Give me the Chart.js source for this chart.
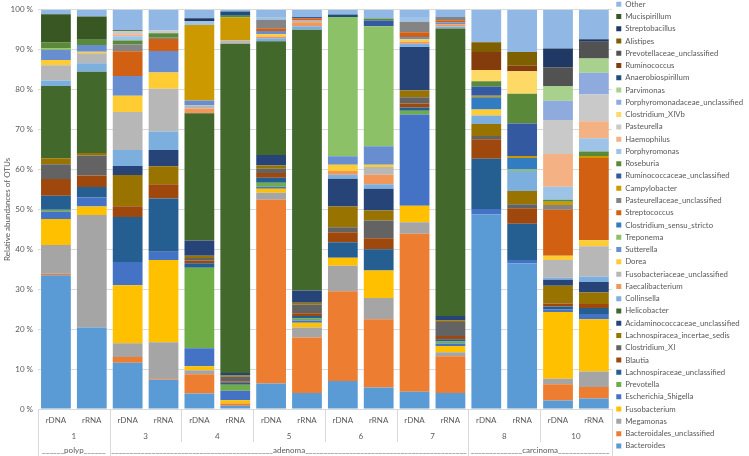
<!DOCTYPE html>
<html>
<head>
<meta charset="utf-8">
<script src="https://cdn.jsdelivr.net/npm/chart.js@4.4.1/dist/chart.umd.min.js"></script>
<style>
  html, body { margin: 0; padding: 0; background: #fff; }
  #wrap { width: 749px; height: 456px; }
</style>
</head>
<body>
<div id="wrap"><canvas id="otuChart"></canvas></div>
<script>
// bars: one rDNA and one rRNA sample per patient
const bars = ['rDNA', 'rRNA', 'rDNA', 'rRNA', 'rDNA', 'rRNA', 'rDNA', 'rRNA',
              'rDNA', 'rRNA', 'rDNA', 'rRNA', 'rDNA', 'rRNA', 'rDNA', 'rRNA'];
const patients = ['1', '3', '4', '5', '6', '7', '8', '10'];
const stages = ['polyp', 'adenoma', 'adenoma', 'adenoma', 'adenoma', 'adenoma', 'carcinoma', 'carcinoma'];

// relative abundance (%) per taxon, one value per bar
const Bacteroides = [33.5, 20.4, 11.6, 7.4, 3.9, 0.8, 6.4, 4.0, 7.0, 5.4, 4.3, 4.0, 48.8, 36.5, 2.1, 2.6];
const Bacteroidales_unclassified = [0.4, 0, 1.4, 0.3, 4.8, 0.6, 46.0, 13.9, 22.5, 17.1, 39.6, 9.2, 0, 0, 4.1, 2.9];
const Megamonas = [7.2, 28.2, 3.5, 9.0, 1.0, 0, 1.8, 2.5, 6.4, 5.3, 2.9, 1.0, 0, 0, 1.4, 3.9];
const Fusobacterium = [6.5, 2.1, 14.5, 20.6, 1.0, 0.8, 1.0, 1.2, 2.0, 6.9, 4.1, 1.6, 0, 0, 16.7, 13.1];
const Escherichia_Shigella = [1.9, 2.3, 5.8, 2.1, 4.5, 2.4, 0.5, 0.6, 0, 0, 22.9, 0.6, 1.3, 0.8, 0.6, 1.3];
const Prevotella = [0.4, 0, 0, 0, 20.2, 1.5, 1.0, 0.5, 0, 0, 0.9, 0.5, 0, 0, 0, 0];
const Lachnospiraceae_unclassified = [3.5, 2.6, 11.3, 13.3, 1.1, 0.5, 1.2, 0.6, 3.9, 5.3, 0.8, 0.6, 12.6, 9.1, 0.8, 1.5];
const Blautia = [4.2, 2.9, 2.7, 3.6, 0.7, 0.3, 1.2, 0.7, 2.5, 2.8, 1.0, 0.8, 4.9, 3.9, 0.7, 1.0];
const Clostridium_XI = [3.7, 5.0, 0, 0, 0.6, 1.2, 1.1, 2.1, 1.2, 4.4, 1.6, 3.5, 0.8, 1.0, 0, 0];
const Lachnospiracea_incertae_sedis = [1.5, 0.6, 7.8, 4.5, 0.6, 0.3, 0.8, 0.5, 5.2, 2.5, 1.7, 0.4, 3.0, 3.3, 4.5, 2.9];
const Acidaminococcaceae_unclassified = [0, 0, 2.3, 4.1, 3.8, 0.6, 2.6, 3.1, 7.0, 5.5, 10.9, 1.1, 0, 0, 1.5, 2.6];
const Helicobacter = [18.1, 20.4, 0, 0, 31.9, 82.5, 28.5, 65.3, 0, 0, 0, 72.0, 0, 0, 0, 0];
const Collinsella = [1.4, 2.1, 4.0, 4.6, 0, 0, 0.8, 0.9, 1.0, 1.1, 0.8, 0.5, 2.1, 5.0, 0.5, 1.4];
const Faecalibacterium = [0, 0, 0, 0, 1.2, 0, 0.4, 1.0, 0.9, 2.4, 0.5, 0.6, 0, 0, 0, 0];
const Fusobacteriaceae_unclassified = [3.8, 2.5, 9.5, 10.7, 0.8, 0.8, 0, 0.4, 0, 1.9, 0, 0, 0, 0, 4.4, 7.6];
const Dorea = [1.3, 0.4, 4.1, 4.1, 0, 0, 0.6, 0, 1.6, 0.6, 0.6, 0, 1.5, 0, 1.1, 1.5];
const Sutterella = [2.5, 1.7, 4.9, 5.4, 1.2, 0, 0.8, 0, 2.1, 4.6, 0.6, 0.4, 0, 0, 0, 0];
const Treponema = [0.4, 0, 0, 0, 0, 0, 0, 0, 34.9, 30.1, 0, 0, 0, 0.4, 0, 0];
const Clostridium_sensu_stricto = [0, 0, 0, 0, 0, 0, 0, 0, 0, 0, 0, 0, 3.1, 2.9, 0, 0];
const Streptococcus = [0, 0, 6.2, 3.0, 0, 0, 0.7, 0.6, 0, 0, 1.2, 0.6, 0, 0, 11.5, 20.6];
const Pasteurellaceae_unclassified = [0, 0, 1.7, 0.3, 0, 0, 2.1, 0, 0, 0, 2.6, 0.8, 0, 0, 1.2, 0];
const Campylobacter = [0, 0, 0, 0, 18.9, 5.8, 0, 0, 0, 0, 0, 0, 0.4, 0.5, 0.8, 0.5];
const Ruminococcaceae_unclassified = [0, 0, 0, 0, 0, 0, 0, 0.3, 0, 1.4, 0, 0, 2.3, 8.1, 0, 0];
const Roseburia = [1.6, 1.3, 1.0, 1.1, 0, 0.4, 0, 0, 0, 0.5, 0, 0, 1.3, 7.5, 0.5, 1.1];
const Porphyromonas = [0, 0, 1.1, 0, 1.0, 0, 0.5, 0, 0, 0, 1.2, 0, 0, 0, 3.3, 3.3];
const Haemophilus = [0, 0, 0.5, 0, 0, 0, 0, 0, 0, 0, 0, 0, 0, 0, 8.2, 4.3];
const Pasteurella = [0, 0, 0.7, 0.7, 0, 0, 0, 0, 0, 0, 0, 0, 0, 0, 8.5, 6.7];
const Clostridium_XIVb = [0, 0, 0, 0, 0, 0, 0, 0, 0, 0, 0, 0, 2.8, 5.6, 0, 0];
const Porphyromonadaceae_unclassified = [0, 0, 0, 0, 0, 0, 0, 0, 0, 0, 0, 0, 0, 0, 4.8, 5.4];
const Parvimonas = [0, 0, 0, 0, 0, 0, 0, 0, 0, 0, 0, 0, 0, 0, 3.7, 3.6];
const Anaerobiospirillum = [0, 0, 0, 0, 0, 1.1, 0, 0, 0.6, 0, 0, 0, 0, 0, 0, 0];
const Ruminococcus = [0, 0, 0, 0, 0, 0, 0, 0, 0, 0, 0, 0, 4.5, 1.4, 0, 0];
const Prevotellaceae_unclassified = [0, 0, 0, 0, 0, 0, 0, 0, 0, 0, 0, 0, 0, 0, 4.7, 4.2];
const Alistipes = [0, 0, 0, 0, 0, 0, 0, 0, 0, 0, 0, 0, 2.5, 3.4, 0, 0];
const Streptobacillus = [0, 0, 0, 0, 0.7, 0, 0, 0, 0, 0, 0, 0, 0, 0, 4.7, 0.6];
const Mucispirillum = [7.0, 5.8, 0.3, 0, 0, 0, 0, 0, 0, 0, 0, 0, 0, 0, 0, 0];
const Other = [1.1, 1.7, 5.1, 5.2, 2.1, 0.4, 2.0, 1.8, 1.2, 2.2, 1.8, 1.8, 8.1, 10.6, 9.7, 7.4];

// stacking order, bottom to top
const seriesNames = ['Bacteroides', 'Bacteroidales_unclassified', 'Megamonas', 'Fusobacterium',
  'Escherichia_Shigella', 'Prevotella', 'Lachnospiraceae_unclassified', 'Blautia', 'Clostridium_XI',
  'Lachnospiracea_incertae_sedis', 'Acidaminococcaceae_unclassified', 'Helicobacter', 'Collinsella',
  'Faecalibacterium', 'Fusobacteriaceae_unclassified', 'Dorea', 'Sutterella', 'Treponema',
  'Clostridium_sensu_stricto', 'Streptococcus', 'Pasteurellaceae_unclassified', 'Campylobacter',
  'Ruminococcaceae_unclassified', 'Roseburia', 'Porphyromonas', 'Haemophilus', 'Pasteurella',
  'Clostridium_XIVb', 'Porphyromonadaceae_unclassified', 'Parvimonas', 'Anaerobiospirillum',
  'Ruminococcus', 'Prevotellaceae_unclassified', 'Alistipes', 'Streptobacillus', 'Mucispirillum', 'Other'];
const seriesValues = [Bacteroides, Bacteroidales_unclassified, Megamonas, Fusobacterium,
  Escherichia_Shigella, Prevotella, Lachnospiraceae_unclassified, Blautia, Clostridium_XI,
  Lachnospiracea_incertae_sedis, Acidaminococcaceae_unclassified, Helicobacter, Collinsella,
  Faecalibacterium, Fusobacteriaceae_unclassified, Dorea, Sutterella, Treponema,
  Clostridium_sensu_stricto, Streptococcus, Pasteurellaceae_unclassified, Campylobacter,
  Ruminococcaceae_unclassified, Roseburia, Porphyromonas, Haemophilus, Pasteurella,
  Clostridium_XIVb, Porphyromonadaceae_unclassified, Parvimonas, Anaerobiospirillum,
  Ruminococcus, Prevotellaceae_unclassified, Alistipes, Streptobacillus, Mucispirillum, Other];

const palette = ['#5B9BD5', '#ED7D31', '#A5A5A5', '#FFC000', '#4472C4', '#70AD47',
  '#255E91', '#9E480E', '#636363', '#997300', '#264478', '#43682B',
  '#7CAFDD', '#F1975A', '#B7B7B7', '#FFCD33', '#698ED0', '#8CC168',
  '#327DC2', '#D26012', '#848484', '#CC9A00', '#335AA1', '#5A8A39',
  '#9DC3E6', '#F4B183', '#C9C9C9', '#FFD966', '#8FAADC', '#A9D18E',
  '#1F4E79', '#843C0C', '#525252', '#7F6000', '#203864', '#385723', '#91B8E4'];

const textColor = '#595959';
const lineColor = '#d9d9d9';
Chart.defaults.font.family = 'Lato, Calibri, "Open Sans", sans-serif';
Chart.defaults.color = textColor;

// patient numbers, stage labels and separators under the x axis
const groupAxis = {
  id: 'groupAxis',
  afterDraw(chart) {
    const { ctx, chartArea } = chart;
    const x = chart.scales.x;
    const step = x.getPixelForValue(1) - x.getPixelForValue(0);
    const base = chartArea.bottom;
    const bottom = chart.height;
    const edges = [];
    ctx.save();
    ctx.fillStyle = textColor;
    ctx.strokeStyle = lineColor;
    ctx.lineWidth = 1;
    ctx.font = '8px Lato, Calibri, sans-serif';
    ctx.textAlign = 'center';
    ctx.textBaseline = 'middle';
    patients.forEach((p, i) => {
      const l = x.getPixelForValue(2 * i) - step / 2;
      const r = x.getPixelForValue(2 * i + 1) + step / 2;
      edges.push([l, r]);
      ctx.fillText(p, (l + r) / 2, base + 27);
      const stageStart = i === 0 || stages[i] !== stages[i - 1];
      const xl = Math.round(l) + 0.5;
      ctx.beginPath();
      ctx.moveTo(xl, base);
      ctx.lineTo(xl, stageStart ? bottom : base + 33);
      ctx.stroke();
    });
    const xr = Math.round(edges[edges.length - 1][1]) + 0.5;
    ctx.beginPath();
    ctx.moveTo(xr, base);
    ctx.lineTo(xr, bottom);
    ctx.stroke();

    // stage labels padded with underscores across their span
    ctx.textBaseline = 'alphabetic';
    const u = ctx.measureText('_').width;
    let start = 0;
    stages.forEach((s, i) => {
      if (i < stages.length - 1 && stages[i + 1] === s) return;
      const l = edges[start][0], r = edges[i][1];
      const n = Math.max(0, Math.floor((r - l - 2 - ctx.measureText(s).width) / (2 * u)));
      const label = '_'.repeat(n) + s + '_'.repeat(n);
      ctx.fillText(label, (l + r) / 2, base + 44);
      start = i + 1;
    });
    ctx.restore();
  }
};

new Chart(document.getElementById('otuChart'), {
  type: 'bar',
  data: {
    labels: bars,
    datasets: seriesNames.map((name, i) => ({
      label: name,
      data: seriesValues[i],
      backgroundColor: palette[i],
      borderWidth: 0,
      barPercentage: 0.83,
      categoryPercentage: 1
    }))
  },
  options: {
    responsive: true,
    maintainAspectRatio: false,
    animation: false,
    layout: { padding: { top: -4.3, right: -4, left: 0, bottom: 1.6 } },
    plugins: {
      legend: {
        position: 'right',
        reverse: true,
        align: 'center',
        labels: {
          boxWidth: 5,
          boxHeight: 5,
          padding: 4.47,
          color: textColor,
          font: { size: 7.8 }
        }
      },
      tooltip: { enabled: false }
    },
    scales: {
      x: {
        stacked: true,
        grid: { display: false, drawTicks: false },
        border: { display: false },
        ticks: { color: textColor, font: { size: 8 }, padding: 7, maxRotation: 0, autoSkip: false },
        afterFit(scale) { scale.height = 45.4; }
      },
      y: {
        stacked: true,
        min: 0,
        max: 100,
        grid: { color: lineColor, drawTicks: false },
        border: { display: false },
        ticks: {
          stepSize: 10,
          padding: 5,
          color: textColor,
          font: { size: 8 },
          callback: v => v + ' %'
        },
        title: {
          display: true,
          text: 'Relative abundances of OTUs',
          color: textColor,
          font: { size: 8 },
          padding: { top: 3, bottom: 0 }
        },
        afterFit(scale) { scale.width = 38; }
      }
    }
  },
  plugins: [groupAxis]
});
</script>
</body>
</html>
